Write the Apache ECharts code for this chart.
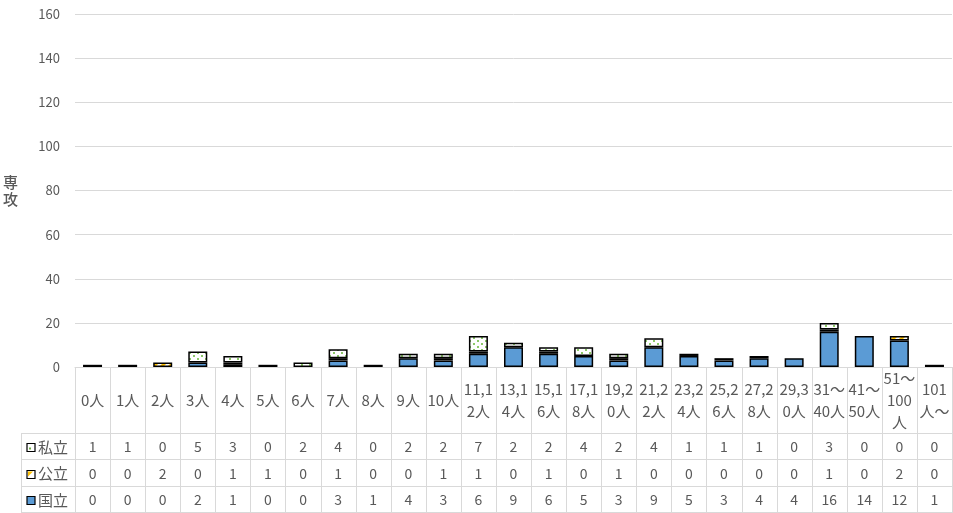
<!DOCTYPE html>
<html>
<head>
<meta charset="utf-8">
<script src="https://cdn.jsdelivr.net/npm/echarts@6/dist/echarts.min.js"></script>
<style>
  html, body { margin: 0; padding: 0; background: #fff; }
  #main { width: 953px; height: 513px; }
</style>
</head>
<body>
<div id="main"></div>
<script>
  const categories = ['0人', '1人', '2人', '3人', '4人', '5人', '6人', '7人', '8人', '9人', '10人',
    '11,12人', '13,14人', '15,16人', '17,18人', '19,20人', '21,22人', '23,24人', '25,26人',
    '27,28人', '29,30人', '31～40人', '41～50人', '51～100人', '101人～']
  const shiritsu = [1, 1, 0, 5, 3, 0, 2, 4, 0, 2, 2, 7, 2, 2, 4, 2, 4, 1, 1, 1, 0, 3, 0, 0, 0]
  const kouritsu = [0, 0, 2, 0, 1, 1, 0, 1, 0, 0, 1, 1, 0, 1, 0, 1, 0, 0, 0, 0, 0, 1, 0, 2, 0]
  const kokuritsu = [0, 0, 0, 2, 1, 0, 0, 3, 1, 4, 3, 6, 9, 6, 5, 3, 9, 5, 3, 4, 4, 16, 14, 12, 1]
  const yMin = 0
  const yMax = 160
  const yStep = 20

  const textColor = '#595959'
  const lineColor = '#d9d9d9'
  const font = '"Noto Sans CJK JP", "Noto Sans", sans-serif'

  // fill patterns drawn on small canvases
  function dotPattern () {
    const c = document.createElement('canvas')
    c.width = 8
    c.height = 6
    const ctx = c.getContext('2d')
    ctx.fillStyle = '#fff'
    ctx.fillRect(0, 0, 8, 6)
    ctx.fillStyle = '#8cc968'
    ctx.fillRect(1, 1, 2, 2)
    ctx.fillRect(5, 4, 2, 2)
    return { image: c, repeat: 'repeat' }
  }
  function stripePattern () {
    const c = document.createElement('canvas')
    c.width = 8
    c.height = 8
    const ctx = c.getContext('2d')
    ctx.fillStyle = '#fff'
    ctx.fillRect(0, 0, 8, 8)
    ctx.strokeStyle = '#ffc000'
    ctx.lineWidth = 3
    ctx.beginPath()
    ctx.moveTo(-2, 10); ctx.lineTo(10, -2)
    ctx.moveTo(-6, 6); ctx.lineTo(6, -6)
    ctx.moveTo(2, 14); ctx.lineTo(14, 2)
    ctx.stroke()
    return { image: c, repeat: 'repeat' }
  }

  // zero-height segments get no outline
  const withBorders = values => values.map(v => v === 0 ? { value: 0, itemStyle: { borderWidth: 0 } } : v)

  const chart = echarts.init(document.getElementById('main'))

  const option = {
    animation: false,
    textStyle: { fontFamily: font },
    grid: { left: 75, right: 1, top: 14, bottom: 146 },
    xAxis: {
      type: 'category',
      data: categories,
      axisTick: { show: false },
      axisLabel: { show: false },
      axisLine: { lineStyle: { color: lineColor, width: 1 } }
    },
    yAxis: {
      type: 'value',
      min: yMin,
      max: yMax,
      interval: yStep,
      name: '専\n攻',
      nameLocation: 'middle',
      nameRotate: 0,
      nameGap: 57,
      nameTextStyle: { color: textColor, fontSize: 15, fontWeight: 500, lineHeight: 17 },
      axisLabel: { color: textColor, fontSize: 13, margin: 15 },
      splitLine: { lineStyle: { color: lineColor, width: 1 } }
    },
    series: [
      {
        name: '国立',
        type: 'bar',
        stack: 'total',
        barWidth: 19,
        data: withBorders(kokuritsu),
        itemStyle: { color: '#5b9bd5', borderColor: '#000', borderWidth: 1.5 }
      },
      {
        name: '公立',
        type: 'bar',
        stack: 'total',
        data: withBorders(kouritsu),
        itemStyle: { color: stripePattern(), borderColor: '#000', borderWidth: 1.5 }
      },
      {
        name: '私立',
        type: 'bar',
        stack: 'total',
        data: withBorders(shiritsu),
        itemStyle: { color: dotPattern(), borderColor: '#000', borderWidth: 1.5 }
      }
    ]
  }
  chart.setOption(option)

  // data table under the plot, aligned to the category axis
  const x0 = chart.convertToPixel({ xAxisIndex: 0 }, 0)
  const band = chart.convertToPixel({ xAxisIndex: 0 }, 1) - x0
  const axisY = chart.convertToPixel({ yAxisIndex: 0 }, 0)
  const headBottom = 433
  const rowLines = [433, 459, 486, 512]
  const tableLeft = 21
  const rows = [
    { name: '私立', values: shiritsu },
    { name: '公立', values: kouritsu },
    { name: '国立', values: kokuritsu }
  ]
  const graphic = []
  const lineStyle = { stroke: lineColor, lineWidth: 1 }

  for (let i = 0; i <= categories.length; i++) {
    const x = Math.round(x0 - band / 2 + i * band) + 0.5
    graphic.push({ type: 'line', shape: { x1: x, y1: axisY, x2: x, y2: 513 }, style: lineStyle, silent: true })
  }
  graphic.push({ type: 'line', shape: { x1: tableLeft + 0.5, y1: headBottom, x2: tableLeft + 0.5, y2: 513 }, style: lineStyle })
  rowLines.forEach(y => {
    graphic.push({ type: 'line', shape: { x1: tableLeft, y1: y + 0.5, x2: 953, y2: y + 0.5 }, style: lineStyle })
  })

  categories.forEach((c, i) => {
    const cx = x0 + i * band
    graphic.push({
      type: 'text',
      x: cx,
      y: (axisY + headBottom) / 2,
      style: {
        text: c, width: band - 1, overflow: 'breakAll', align: 'center', verticalAlign: 'middle',
        fontSize: 15, lineHeight: 22, fill: textColor, fontFamily: font
      }
    })
    rows.forEach((r, k) => {
      graphic.push({
        type: 'text',
        x: cx,
        y: (rowLines[k] + rowLines[k + 1]) / 2 + 1,
        style: {
          text: String(r.values[i]), align: 'center', verticalAlign: 'middle',
          fontSize: 14, fill: textColor, fontFamily: font
        }
      })
    })
  })

  // legend keys in the table
  rows.forEach((r, k) => {
    const cy = (rowLines[k] + rowLines[k + 1]) / 2 + 1
    const iconX = 27
    const iconY = Math.round(cy - 4) + 0.5
    if (r.name === '国立') {
      graphic.push({ type: 'rect', shape: { x: iconX, y: iconY, width: 8, height: 8 }, style: { fill: '#5b9bd5', stroke: '#000', lineWidth: 1.2 } })
    } else if (r.name === '公立') {
      graphic.push({ type: 'rect', shape: { x: iconX, y: iconY, width: 8, height: 8 }, style: { fill: '#fff', stroke: '#000', lineWidth: 1.2 } })
      graphic.push({ type: 'polygon', shape: { points: [[iconX + 1, iconY + 1], [iconX + 6, iconY + 1], [iconX + 1, iconY + 6]] }, style: { fill: '#ffc000' } })
    } else {
      graphic.push({ type: 'rect', shape: { x: iconX, y: iconY, width: 8, height: 8 }, style: { fill: '#fff', stroke: '#000', lineWidth: 1.2 } })
      graphic.push({ type: 'rect', shape: { x: iconX + 2, y: iconY + 4, width: 2, height: 2 }, style: { fill: '#70ad47' } })
    }
    graphic.push({
      type: 'text',
      x: 38,
      y: cy,
      style: { text: r.name, align: 'left', verticalAlign: 'middle', fontSize: 15, fill: textColor, fontFamily: font }
    })
  })

  chart.setOption({ graphic: graphic })
  window.addEventListener('resize', () => chart.resize())
</script>
</body>
</html>
